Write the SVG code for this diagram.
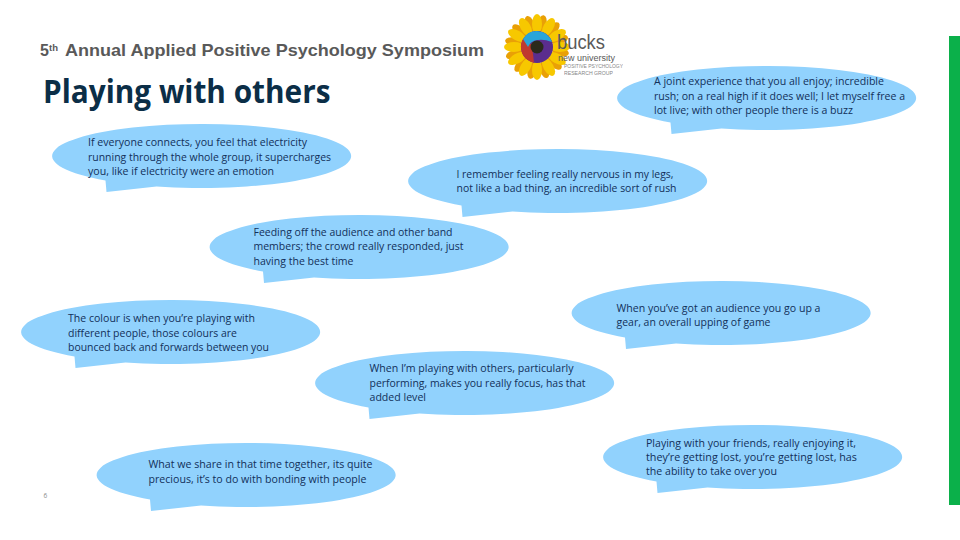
<svg xmlns="http://www.w3.org/2000/svg" width="960" height="540" viewBox="0 0 960 540">
<style>
.b{fill:#91d2fd}
.q{font-family:"Open Sans","Noto Sans","Liberation Sans",sans-serif;font-size:10.6px;fill:#12305a}
.h{font-family:"Liberation Sans",Arial,sans-serif;font-weight:700;fill:#595959}
.t{font-family:"Open Sans","Noto Sans",sans-serif;font-weight:700;font-size:33px;fill:#0b2e47}
.logo{font-family:"Liberation Sans",Arial,sans-serif;fill:#5a5a5a}
</style>
<defs>
<path id="bubble" class="b" d="M-96,24.5 L-95,36 L-45,30.5 A149.500,32 0 1 0 -96,24.500 Z"/>
<ellipse id="p1" cx="0" cy="-23" rx="5" ry="10" fill="#f7c800"/>
<ellipse id="p2" cx="0" cy="-24" rx="4.5" ry="8.5" fill="#e9a006"/>
</defs>
<rect width="960" height="540" fill="#fff"/>
<rect id="bar" x="949" y="36" width="11" height="469" fill="#0bb04a"/>
<g id="header">
<text class="h" x="40" y="56" font-size="16">5</text>
<text class="h" x="49" y="51" font-size="9.500">th</text>
<text class="h" x="65" y="56" font-size="17" textLength="419" lengthAdjust="spacingAndGlyphs">Annual Applied Positive Psychology Symposium</text>
</g>
<g id="title"><text class="t" x="43" y="103" textLength="287.500" lengthAdjust="spacingAndGlyphs">Playing with others</text></g>
<g id="logo">
<g transform="translate(537 47)">
<use href="#p2" transform="rotate(12)"/><use href="#p2" transform="rotate(42)"/><use href="#p2" transform="rotate(72)"/><use href="#p2" transform="rotate(102)"/><use href="#p2" transform="rotate(132)"/><use href="#p2" transform="rotate(162)"/><use href="#p2" transform="rotate(192)"/><use href="#p2" transform="rotate(222)"/><use href="#p2" transform="rotate(252)"/><use href="#p2" transform="rotate(282)"/><use href="#p2" transform="rotate(312)"/><use href="#p2" transform="rotate(342)"/>
<use href="#p1" transform="rotate(0)"/><use href="#p1" transform="rotate(30)"/><use href="#p1" transform="rotate(60)"/><use href="#p1" transform="rotate(90)"/><use href="#p1" transform="rotate(120)"/><use href="#p1" transform="rotate(150)"/><use href="#p1" transform="rotate(180)"/><use href="#p1" transform="rotate(210)"/><use href="#p1" transform="rotate(240)"/><use href="#p1" transform="rotate(270)"/><use href="#p1" transform="rotate(300)"/><use href="#p1" transform="rotate(330)"/>
<circle r="16" fill="#5b2d8e"/>
<path d="M-3,15.700 A16,16 0 0 1 -14,-8 L-5,-2 Z" fill="#c0392f"/>
<path d="M-14,-8 A16,16 0 0 1 15,-5 Q7,-8 1,-7 Q-7,-6 -9,0 Z" fill="#2aa5d8"/>
<circle r="6.500" fill="#2b2a1c"/>
</g>
<text class="logo" x="557" y="49" font-size="20" textLength="48" lengthAdjust="spacingAndGlyphs">bucks</text>
<text class="logo" x="558" y="61" font-size="8.500" textLength="57" lengthAdjust="spacingAndGlyphs">new university</text>
<text class="logo" x="564" y="68" font-size="4.500" textLength="59" lengthAdjust="spacingAndGlyphs" opacity="0.75">POSITIVE PSYCHOLOGY</text>
<text class="logo" x="564" y="75" font-size="4.500" textLength="49" lengthAdjust="spacingAndGlyphs" opacity="0.75">RESEARCH GROUP</text>
</g>
<g id="connectors"></g>
<g id="n1"><use href="#bubble" x="201.500" y="156"/>
<text class="q" x="88" y="146" textLength="219" lengthAdjust="spacingAndGlyphs">If everyone connects, you feel that electricity</text>
<text class="q" x="88" y="160.500" textLength="243" lengthAdjust="spacingAndGlyphs">running through the whole group, it supercharges</text>
<text class="q" x="88" y="175" textLength="186" lengthAdjust="spacingAndGlyphs">you, like if electricity were an emotion</text></g>
<g id="n2"><use href="#bubble" x="557.500" y="181"/>
<text class="q" x="456.500" y="178" textLength="217" lengthAdjust="spacingAndGlyphs">I remember feeling really nervous in my legs,</text>
<text class="q" x="456.500" y="192" textLength="220" lengthAdjust="spacingAndGlyphs">not like a bad thing, an incredible sort of rush</text></g>
<g id="n3"><use href="#bubble" x="766.500" y="98"/>
<text class="q" x="654" y="85" textLength="230" lengthAdjust="spacingAndGlyphs">A joint experience that you all enjoy; incredible</text>
<text class="q" x="654" y="99.500" textLength="251" lengthAdjust="spacingAndGlyphs">rush; on a real high if it does well; I let myself free a</text>
<text class="q" x="654" y="114" textLength="199" lengthAdjust="spacingAndGlyphs">lot live; with other people there is a buzz</text></g>
<g id="n4"><use href="#bubble" x="359" y="247"/>
<text class="q" x="253.500" y="236" textLength="199" lengthAdjust="spacingAndGlyphs">Feeding off the audience and other band</text>
<text class="q" x="253.500" y="250" textLength="210" lengthAdjust="spacingAndGlyphs">members; the crowd really responded, just</text>
<text class="q" x="253.500" y="265" textLength="100" lengthAdjust="spacingAndGlyphs">having the best time</text></g>
<g id="n5"><use href="#bubble" x="170.500" y="332"/>
<text class="q" x="68" y="322" textLength="187" lengthAdjust="spacingAndGlyphs">The colour is when you’re playing with</text>
<text class="q" x="68" y="336.500" textLength="169" lengthAdjust="spacingAndGlyphs">different people, those colours are</text>
<text class="q" x="68" y="351" textLength="201" lengthAdjust="spacingAndGlyphs">bounced back and forwards between you</text></g>
<g id="n6"><use href="#bubble" x="464.500" y="383"/>
<text class="q" x="369.500" y="372" textLength="204" lengthAdjust="spacingAndGlyphs">When I’m playing with others, particularly</text>
<text class="q" x="369.500" y="387" textLength="216" lengthAdjust="spacingAndGlyphs">performing, makes you really focus, has that</text>
<text class="q" x="369.500" y="401" textLength="56.500" lengthAdjust="spacingAndGlyphs">added level</text></g>
<g id="n7"><use href="#bubble" x="246" y="475"/>
<text class="q" x="148.500" y="468" textLength="224" lengthAdjust="spacingAndGlyphs">What we share in that time together, its quite</text>
<text class="q" x="148.500" y="483" textLength="218" lengthAdjust="spacingAndGlyphs">precious, it’s to do with bonding with people</text></g>
<g id="n8"><use href="#bubble" x="721" y="313"/>
<text class="q" x="616.500" y="312" textLength="204" lengthAdjust="spacingAndGlyphs">When you’ve got an audience you go up a</text>
<text class="q" x="616.500" y="326" textLength="154" lengthAdjust="spacingAndGlyphs">gear, an overall upping of game</text></g>
<g id="n9"><use href="#bubble" x="752.500" y="457"/>
<text class="q" x="646" y="447" textLength="210" lengthAdjust="spacingAndGlyphs">Playing with your friends, really enjoying it,</text>
<text class="q" x="646" y="461" textLength="211" lengthAdjust="spacingAndGlyphs">they’re getting lost, you’re getting lost, has</text>
<text class="q" x="646" y="475" textLength="131" lengthAdjust="spacingAndGlyphs">the ability to take over you</text></g>
<g id="page"><text x="43.500" y="498" font-family="Open Sans, sans-serif" font-size="6.500" fill="#8a8a8a">6</text></g>
</svg>
